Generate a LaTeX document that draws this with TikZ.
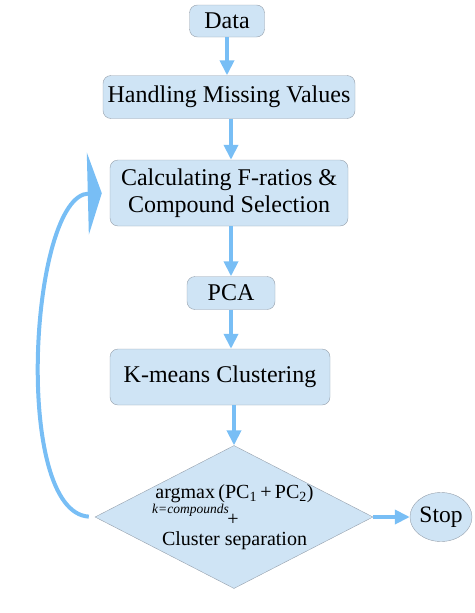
\documentclass[tikz,border=0pt]{standalone}
\usepackage{fontspec}
\setmainfont{Liberation Serif}
\usetikzlibrary{shapes.geometric,arrows.meta}
\definecolor{boxfill}{RGB}{207,228,245}
\definecolor{boxline}{RGB}{150,160,172}
\definecolor{flowblue}{RGB}{120,190,245}
\begin{document}
\begin{tikzpicture}[x=1pt, y=-1pt,
    procbox/.style={rectangle, rounded corners=8pt, fill=boxfill, draw=boxline, inner sep=0pt, align=center, font=\fontsize{24}{27}\selectfont},
    decbox/.style={diamond, fill=boxfill, draw=boxline, inner sep=0pt, minimum width=278pt, minimum height=143pt},
    endbox/.style={ellipse, fill=boxfill, draw=boxline, inner sep=0pt, minimum width=62pt, minimum height=49pt, font=\fontsize{23.5}{27}\selectfont},
    flow/.style={-{Triangle[length=15pt, width=14pt]}, line width=4pt, draw=flowblue}
]
    \useasboundingbox (0,0) rectangle (474,613);

    \node[procbox, minimum width=75pt, minimum height=32pt] at (227,21) (data) {Data};
    \node[procbox, minimum width=252pt, minimum height=43pt] at (229,97) (missing) {Handling Missing Values};
    \node[procbox, minimum width=238pt, minimum height=66pt] at (229,193) (fratio) {Calculating F-ratios \&\\Compound Selection};
    \node[procbox, minimum width=88pt, minimum height=33pt] at (231,293) (pca) {PCA};
    \node[procbox, minimum width=220pt, minimum height=56pt] at (220,377) (kmeans) {K-means Clustering};
    \node[decbox] at (234,517) (decide) {};
    \node[endbox] at (441,517) (stop) {Stop};

    \node[anchor=base, inner sep=0pt, font=\fontsize{20}{24}\selectfont] at (234.5,498) (argmax) {argmax\,(PC\textsubscript{1}\,+\,PC\textsubscript{2})};
    \node[anchor=base west, inner sep=0pt, font=\fontsize{13.5}{15}\selectfont\itshape] at (152,513) (krange) {k=compounds};
    \node[inner sep=0pt, font=\fontsize{20}{24}\selectfont] at (233,520) (plus) {+};
    \node[anchor=base, inner sep=0pt, font=\fontsize{20}{24}\selectfont] at (234.5,545) (separation) {Cluster separation};

    \draw[flow] (data.south) -- (data.south |- missing.north);
    \draw[flow] ([xshift=2pt]missing.south) -- ([xshift=2pt]missing.south |- fratio.north);
    \draw[flow] ([xshift=2pt]fratio.south) -- ([xshift=2pt]fratio.south |- pca.north);
    \draw[flow] (pca.south) -- (pca.south |- kmeans.north);
    \draw[flow] (decide.north |- kmeans.south) -- (decide.north);
    \draw[flow] (decide.east) -- (stop.west);
    \draw[-{Triangle[length=14pt, width=82pt]}, line width=4pt, draw=flowblue, shorten <=6pt, shorten >=8pt]
        (decide.west) .. controls (12,512) and (30,195) .. (fratio.west);
\end{tikzpicture}
\end{document}
